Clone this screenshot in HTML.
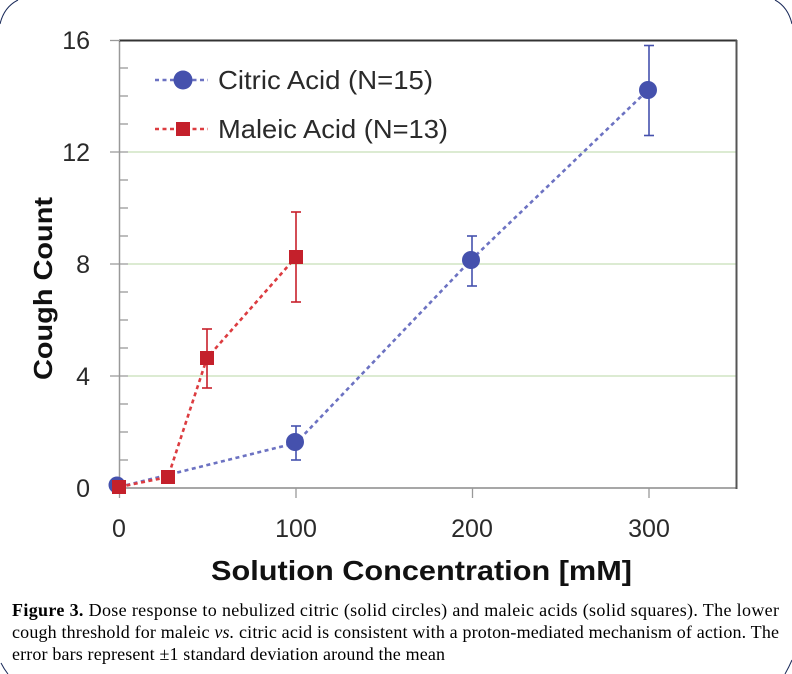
<!DOCTYPE html>
<html><head><meta charset="utf-8"><style>
html,body{margin:0;padding:0;background:#fff;}
svg{display:block;}
</style></head><body>
<svg width="792" height="674" viewBox="0 0 792 674" xmlns="http://www.w3.org/2000/svg">
<rect width="792" height="674" fill="#fff"/>
<!-- corner arcs -->
<g fill="none" stroke="#1a2a5a" stroke-width="1">
<path d="M0,24 Q4,7 18,0"/>
<path d="M775,0 Q788,7 792,24"/>
<path d="M1,663 Q4,669 8,674"/>
<path d="M785,674 Q789,667 792,660"/>
</g>
<!-- gridlines -->
<g stroke="#dcebd2" stroke-width="2">
<line x1="128" y1="152" x2="736" y2="152"/>
<line x1="128" y1="264" x2="736" y2="264"/>
<line x1="128" y1="376" x2="736" y2="376"/>
</g>
<!-- axes -->
<line x1="119.5" y1="40" x2="119.5" y2="488" stroke="#999" stroke-width="1.5"/>
<line x1="119" y1="488" x2="737" y2="488" stroke="#8a8a8a" stroke-width="1.5"/>
<line x1="119" y1="40.5" x2="737" y2="40.5" stroke="#333" stroke-width="2"/>
<line x1="736.5" y1="40" x2="736.5" y2="489" stroke="#555" stroke-width="2"/>
<!-- y ticks -->
<g stroke="#999" stroke-width="1.3">
<line x1="110" y1="40.5" x2="120" y2="40.5"/>
<line x1="110" y1="152" x2="128" y2="152"/>
<line x1="110" y1="264" x2="128" y2="264"/>
<line x1="110" y1="376" x2="128" y2="376"/>
<line x1="110" y1="488" x2="120" y2="488"/>
<line x1="119" y1="68" x2="128" y2="68"/>
<line x1="119" y1="96" x2="128" y2="96"/>
<line x1="119" y1="124" x2="128" y2="124"/>
<line x1="119" y1="180" x2="128" y2="180"/>
<line x1="119" y1="208" x2="128" y2="208"/>
<line x1="119" y1="236" x2="128" y2="236"/>
<line x1="119" y1="292" x2="128" y2="292"/>
<line x1="119" y1="320" x2="128" y2="320"/>
<line x1="119" y1="348" x2="128" y2="348"/>
<line x1="119" y1="404" x2="128" y2="404"/>
<line x1="119" y1="432" x2="128" y2="432"/>
<line x1="119" y1="460" x2="128" y2="460"/>
<!-- x ticks -->
<line x1="119.5" y1="488" x2="119.5" y2="498"/>
<line x1="296" y1="488" x2="296" y2="498"/>
<line x1="472.5" y1="488" x2="472.5" y2="498"/>
<line x1="649" y1="488" x2="649" y2="498"/>
</g>
<!-- tick labels -->
<g font-family="Liberation Sans, sans-serif" font-size="25" fill="#2a2a2a" text-anchor="end">
<text x="90" y="49">16</text>
<text x="90" y="161">12</text>
<text x="90" y="273">8</text>
<text x="90" y="385">4</text>
<text x="90" y="497">0</text>
</g>
<g font-family="Liberation Sans, sans-serif" font-size="25" fill="#2a2a2a" text-anchor="middle">
<text x="119" y="537">0</text>
<text x="296" y="537">100</text>
<text x="472" y="537">200</text>
<text x="649" y="537">300</text>
</g>
<!-- axis titles -->
<text x="211" y="580" font-family="Liberation Sans, sans-serif" font-weight="bold" font-size="28" fill="#111" textLength="421" lengthAdjust="spacingAndGlyphs">Solution Concentration [mM]</text>
<text transform="translate(52,380) rotate(-90)" x="0" y="0" font-family="Liberation Sans, sans-serif" font-weight="bold" font-size="26" fill="#111" textLength="183" lengthAdjust="spacingAndGlyphs">Cough Count</text>
<!-- series lines -->
<polyline points="119,487 296,443 471,260 648,90" fill="none" stroke="#6c72c2" stroke-width="2.6" stroke-dasharray="4,3.5"/>
<polyline points="119,487 168,477 207,358 296,257" fill="none" stroke="#dc3c40" stroke-width="2.6" stroke-dasharray="4,3.5"/>
<!-- error bars -->
<g stroke="#4551ad" stroke-width="1.6">
<line x1="296" y1="426" x2="296" y2="460"/><line x1="291" y1="426" x2="301" y2="426"/><line x1="291" y1="460" x2="301" y2="460"/>
<line x1="472" y1="236" x2="472" y2="286"/><line x1="467" y1="236" x2="477" y2="236"/><line x1="467" y1="286" x2="477" y2="286"/>
<line x1="649" y1="45.5" x2="649" y2="135.5"/><line x1="644" y1="45.5" x2="654" y2="45.5"/><line x1="644" y1="135.5" x2="654" y2="135.5"/>
</g>
<g stroke="#c8202b" stroke-width="1.6">
<line x1="207" y1="329" x2="207" y2="388"/><line x1="202" y1="329" x2="212" y2="329"/><line x1="202" y1="388" x2="212" y2="388"/>
<line x1="296" y1="212" x2="296" y2="302"/><line x1="291" y1="212" x2="301" y2="212"/><line x1="291" y1="302" x2="301" y2="302"/>
</g>
<!-- markers -->
<g fill="#4551ad">
<circle cx="117" cy="485" r="8.5"/>
<circle cx="295" cy="442" r="9"/>
<circle cx="471" cy="260" r="9"/>
<circle cx="648" cy="90" r="9"/>
</g>
<g fill="#c4202b">
<rect x="112" y="480" width="14" height="14"/>
<rect x="161" y="470" width="14" height="14"/>
<rect x="200" y="351" width="14" height="14"/>
<rect x="289" y="250" width="14" height="14"/>
</g>
<!-- legend -->
<line x1="155" y1="80" x2="208" y2="80" stroke="#6c72c2" stroke-width="2.5" stroke-dasharray="4,3.5"/>
<circle cx="183" cy="80" r="9.5" fill="#4551ad"/>
<line x1="155" y1="129" x2="208" y2="129" stroke="#dc3c40" stroke-width="2.5" stroke-dasharray="4,3.5"/>
<rect x="176" y="122" width="14" height="14" fill="#c4202b"/>
<g font-family="Liberation Sans, sans-serif" font-size="26" fill="#2a2a2a">
<text x="218" y="89" textLength="215" lengthAdjust="spacingAndGlyphs">Citric Acid (N=15)</text>
<text x="218" y="138" textLength="230" lengthAdjust="spacingAndGlyphs">Maleic Acid (N=13)</text>
</g>
<!-- caption -->
<g font-family="Liberation Serif, serif" font-size="18" fill="#000">
<text x="12" y="616" textLength="767" lengthAdjust="spacing"><tspan font-weight="bold">Figure 3.</tspan> Dose response to nebulized citric (solid circles) and maleic acids (solid squares). The lower</text>
<text x="12" y="638" textLength="767" lengthAdjust="spacing">cough threshold for maleic <tspan font-style="italic">vs.</tspan> citric acid is consistent with a proton-mediated mechanism of action. The</text>
<text x="12" y="660" textLength="433" lengthAdjust="spacing">error bars represent ±1 standard deviation around the mean</text>
</g>
</svg>
</body></html>
